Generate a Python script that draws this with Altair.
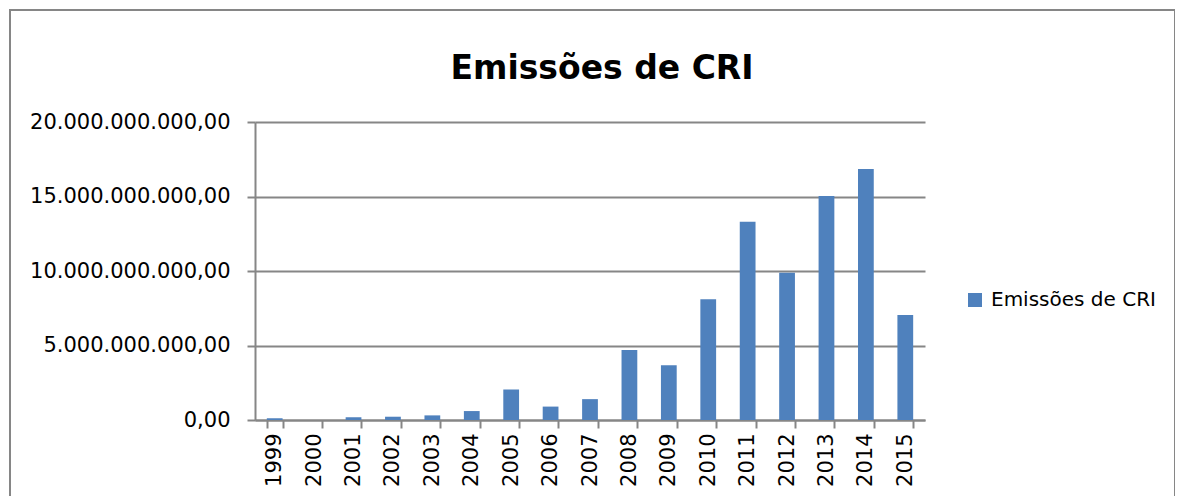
import altair as alt
import pandas as pd

years = ["1999", "2000", "2001", "2002", "2003", "2004", "2005", "2006", "2007",
         "2008", "2009", "2010", "2011", "2012", "2013", "2014", "2015"]
values = [0.12e9, 0.0, 0.18e9, 0.22e9, 0.31e9, 0.60e9, 2.05e9, 0.90e9, 1.40e9,
          4.70e9, 3.67e9, 8.10e9, 13.30e9, 9.89e9, 15.03e9, 16.85e9, 7.05e9]
series_name = "Emissões de CRI"
title_text = "Emissões de CRI"
y_ticks = [0, 5e9, 10e9, 15e9, 20e9]

df = pd.DataFrame({"Ano": years, "Valor": values, "Serie": [series_name] * len(years)})
one = pd.DataFrame({"t": [title_text]})

FONT = "DejaVu Sans"
BLUE = "#4F81BD"
GRAY = "#868686"
W, H = 670, 298

bars = alt.Chart(df).mark_bar(color=BLUE).encode(
    x=alt.X("Ano:N", sort=years,
            scale=alt.Scale(paddingInner=0.6, paddingOuter=0.3),
            axis=alt.Axis(title=None, labelAngle=-90, labelFont=FONT, labelFontSize=21,
                          labelColor="#000000", labelPadding=5, tickBand="extent",
                          tickSize=8, tickColor=GRAY, tickWidth=2, domainColor=GRAY,
                          domainWidth=2, labelBaseline="middle", labelAlign="right",
                          labelLimit=0)),
    y=alt.Y("Valor:Q", scale=alt.Scale(domain=[0, 20e9], nice=False),
            axis=alt.Axis(title=None, values=y_ticks, format=",.2f", labelFont=FONT,
                          labelFontSize=21, labelColor="#000000", labelPadding=17,
                          tickSize=8, tickColor=GRAY, tickWidth=2, domainColor=GRAY,
                          domainWidth=2, grid=True, gridColor=GRAY, gridWidth=2,
                          labelLimit=0)),
    fill=alt.Fill("Serie:N", scale=alt.Scale(range=[BLUE]),
                  legend=alt.Legend(title=None, orient="none", legendX=710, legendY=168,
                                    labelFont=FONT, labelFontSize=20, labelColor="#000000",
                                    symbolType="square", symbolSize=196,
                                    symbolStrokeWidth=0, labelOffset=6, labelLimit=0)),
)

border = alt.Chart(one).mark_rect(fill=None, stroke=GRAY, strokeWidth=2).encode(
    x=alt.value(-245), x2=alt.value(920), y=alt.value(-112), y2=alt.value(420)
)

title = alt.Chart(one).mark_text(font=FONT, fontSize=33, fontWeight="bold",
                                 align="center", baseline="alphabetic",
                                 color="#000000").encode(
    text="t:N", x=alt.value(347), y=alt.value(-43)
)

chart = alt.layer(border, bars, title).properties(
    width=W, height=H,
    autosize=alt.AutoSizeParams(type="none"),
    padding={"left": 247, "top": 114, "right": 250, "bottom": 76},
).configure(
    locale={"number": {"decimal": ",", "thousands": ".", "grouping": [3],
                       "currency": ["R$", ""]}}
).configure_view(stroke=None)

chart.save("out.html", embed_options={"renderer": "svg", "actions": False})
